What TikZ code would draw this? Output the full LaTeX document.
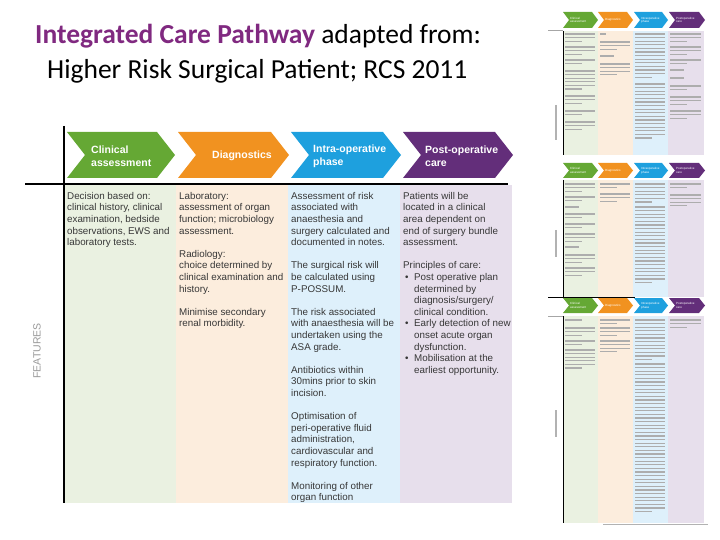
\documentclass[tikz,border=0pt]{standalone}
\usepackage{fontspec}
\setmainfont{Liberation Sans}
\newfontfamily\titlefont{Carlito}
\definecolor{cgreen}{RGB}{101,168,52}
\definecolor{corange}{RGB}{241,146,32}
\definecolor{cblue}{RGB}{30,160,222}
\definecolor{cpurple}{RGB}{99,46,122}
\definecolor{bgreen}{RGB}{234,241,225}
\definecolor{borange}{RGB}{252,237,221}
\definecolor{bblue}{RGB}{222,240,251}
\definecolor{bpurple}{RGB}{231,223,236}
\definecolor{titlepurple}{RGB}{128,41,128}
\definecolor{bodytext}{RGB}{55,55,55}
\newcommand\chevron[6]{\fill[#6] (#1,#3) -- ({#2-#5},#3) -- (#2,{(#3+#4)/2}) -- ({#2-#5},#4) -- (#1,#4) -- ({#1+#5},{(#3+#4)/2}) -- cycle;}
\newcommand\tlines[4]{\foreach \i in {1,...,#3}{\pgfmathsetmacro\ww{\i==#3 ? 0.55*#4 : #4}\draw[tline] (#1,{#2+(\i-1)*3.6}) -- ++(\ww,0);}}
\newcommand\thumbrow[3]{%
  \chevron{563}{598}{#1}{#2}{6}{cgreen}
  \chevron{598}{633}{#1}{#2}{6}{corange}
  \chevron{634}{668}{#1}{#2}{6}{cblue}
  \chevron{669}{705}{#1}{#2}{6}{cpurple}
  \node[thumblab] (#3a) at (570,{(#1+#2)/2}) {Clinical\\assessment};
  \node[thumblab] (#3b) at (605,{(#1+#2)/2}) {Diagnostics};
  \node[thumblab] (#3c) at (641,{(#1+#2)/2}) {Intraoperative\\phase};
  \node[thumblab] (#3d) at (676,{(#1+#2)/2}) {Postoperative\\care};}
\newcommand\thumbcols[2]{%
  \fill[bgreen] (563,#1) rectangle (598,#2);
  \fill[borange] (598,#1) rectangle (633,#2);
  \fill[bblue] (633,#1) rectangle (668,#2);
  \fill[bpurple] (668,#1) rectangle (704,#2);
  \draw[line width=0.9pt] (563,#1) -- (563,#2);}
\begin{document}
\begin{tikzpicture}[x=1pt,y=-1pt,
  body/.style={anchor=north west, inner sep=0pt, align=left, text=bodytext, font=\fontsize{9.8}{11.6}\selectfont},
  chevlab/.style={anchor=west, inner sep=0pt, align=left, text=white, font=\bfseries\fontsize{10.5}{13}\selectfont},
  tline/.style={line width=1.1pt, draw=black!32},
  thumblab/.style={inner sep=0pt, align=left, text=white, font=\fontsize{3}{3.5}\selectfont, anchor=west}]
\useasboundingbox (0,0) rectangle (720,540);
% title
\node[anchor=base west, inner sep=0pt, font=\titlefont\fontsize{27.5}{32}\selectfont] (title1) at (35,44)
  {\textcolor{titlepurple}{\bfseries Integrated Care Pathway} adapted from:};
\node[anchor=base west, inner sep=0pt, font=\titlefont\fontsize{27.5}{32}\selectfont] (title2) at (47,79)
  {Higher Risk Surgical Patient; RCS 2011};
% main columns
\fill[bgreen] (64,185) rectangle (176,503);
\fill[borange] (176,185) rectangle (288,503);
\fill[bblue] (288,185) rectangle (400,503);
\fill[bpurple] (400,185) rectangle (512,503);
\chevron{67}{175}{132}{178}{18}{cgreen}
\chevron{178}{289}{132}{178}{18}{corange}
\chevron{291}{401}{132}{178}{18}{cblue}
\chevron{403}{513}{132}{178}{18}{cpurple}
\node[chevlab] (lab1) at (91,156) {Clinical\\assessment};
\node[chevlab] (lab2) at (212,156) {Diagnostics};
\node[chevlab] (lab3) at (313,156) {Intra-operative\\phase};
\node[chevlab] (lab4) at (425,156) {Post-operative\\care};
\draw[line width=1.3pt] (64,126) -- (64,503);
\draw[line width=1.2pt] (25,184) -- (508,184);
\node[rotate=90, text=black!40, font=\fontsize{10.5}{11}\selectfont] (feat) at (37,351) {FEATURES};
% body text
\node[body] (t1) at (67,192) {Decision based on:\\clinical history, clinical\\examination, bedside\\observations, EWS and\\laboratory tests.};
\node[body] (t2) at (179,192) {Laboratory:\\assessment of organ\\function; microbiology\\assessment.\\[11.6pt]Radiology:\\choice determined by\\clinical examination and\\history.\\[11.6pt]Minimise secondary\\renal morbidity.};
\node[body] (t3) at (291,192) {Assessment of risk\\associated with\\anaesthesia and\\surgery calculated and\\documented in notes.\\[11.6pt]The surgical risk will\\be calculated using\\P-POSSUM.\\[11.6pt]The risk associated\\with anaesthesia will be\\undertaken using the\\ASA grade.\\[11.6pt]Antibiotics within\\30mins prior to skin\\incision.\\[11.6pt]Optimisation of\\peri-operative fluid\\administration,\\cardiovascular and\\respiratory function.\\[11.6pt]Monitoring of other\\organ function};
\node[body] (t4) at (403,192) {Patients will be\\located in a clinical\\area dependent on\\end of surgery bundle\\assessment.\\[11.6pt]Principles of care:\\\hspace*{2pt}\makebox[9pt][l]{\textbullet}Post operative plan\\\hspace*{11pt}determined by\\\hspace*{11pt}diagnosis/surgery/\\\hspace*{11pt}clinical condition.\\\hspace*{2pt}\makebox[9pt][l]{\textbullet}Early detection of new\\\hspace*{11pt}onset acute organ\\\hspace*{11pt}dysfunction.\\\hspace*{2pt}\makebox[9pt][l]{\textbullet}Mobilisation at the\\\hspace*{11pt}earliest opportunity.};
% thumbnails
\thumbcols{31}{155}
\thumbrow{12}{28}{pa}
\draw[line width=0.6pt, black!35] (548,30) -- (563,30);
\tlines{565}{34}{3}{30}\tlines{565}{47}{3}{30}\tlines{565}{60}{2}{30}\tlines{565}{71}{6}{30}\tlines{565}{96}{3}{30}\tlines{565}{111}{2}{30}\tlines{565}{122}{3}{30}
\tlines{600}{34}{1}{10}\tlines{600}{42}{3}{30}\tlines{600}{56}{1}{25}\tlines{600}{64}{4}{30}
\tlines{635}{34}{13}{30}\tlines{635}{84}{16}{30}
\tlines{670}{34}{3}{31}\tlines{670}{47}{3}{31}\tlines{670}{60}{2}{31}\tlines{670}{70}{1}{25}\tlines{670}{78}{1}{25}\tlines{670}{86}{2}{31}\tlines{670}{97}{3}{31}\tlines{670}{111}{3}{31}
\draw[line width=1.4pt, black!30] (556,105) -- (556,140);
\thumbcols{180}{297}
\thumbrow{163}{178}{pb}
\tlines{565}{184}{3}{30}\tlines{565}{197}{2}{30}\tlines{565}{207}{1}{25}\tlines{565}{214}{2}{30}\tlines{565}{224}{2}{30}\tlines{565}{234}{3}{30}\tlines{565}{247}{1}{25}\tlines{565}{255}{3}{30}\tlines{565}{268}{3}{30}
\tlines{600}{184}{2}{30}\tlines{600}{194}{3}{30}
\tlines{635}{184}{6}{30}\tlines{635}{207}{22}{30}
\tlines{670}{184}{2}{31}\tlines{670}{195}{4}{31}
\draw[line width=1.4pt, black!30] (556,230) -- (556,257);
\draw[line width=0.9pt] (548,297) -- (635,297);
\thumbcols{316}{523}
\thumbrow{298}{313}{pc}
\draw[line width=0.6pt, black!35] (548,316) -- (563,316);
\tlines{565}{320}{1}{30}\tlines{565}{328}{3}{30}\tlines{565}{341}{2}{30}\tlines{565}{350}{6}{30}
\tlines{600}{320}{2}{30}\tlines{600}{328}{3}{30}\tlines{600}{341}{4}{30}
\tlines{635}{320}{12}{30}\tlines{635}{364}{42}{30}
\tlines{670}{320}{3}{31}
\draw[line width=1.4pt, black!30] (556,410) -- (556,437);
\draw[line width=1pt, black!30] (603,524) -- (708,524);
\end{tikzpicture}
\end{document}
